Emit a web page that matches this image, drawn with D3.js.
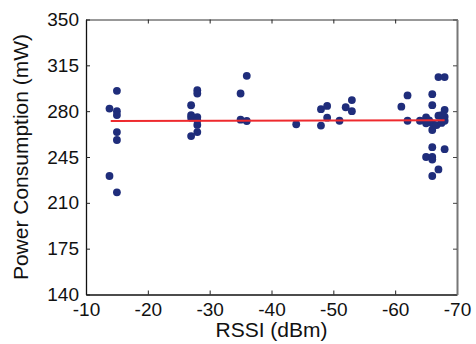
<!DOCTYPE html>
<html><head><meta charset="utf-8">
<script src="https://cdn.jsdelivr.net/npm/d3@7"></script>
<style>html,body{margin:0;padding:0;background:#fff;}text{font-family:"Liberation Sans",Arial,sans-serif;fill:#111;}</style>
</head><body><svg id="c" width="476" height="344"></svg>
<script>
const rssi = [
  -13.8,-15,-15,-15,-15,-15,-13.8,-15,
  -28,-28,-27,-27,-28,-27,-28,-28,-28,-27,
  -36,-35,-35,-36,
  -44,-48,-49,-49,-48,-51,-52,-53,-53,
  -61,-62,-62,-64,-65,-65,-66,-66,-66,-66,-66.7,-67,-67,-68,-68,-67.5,-68,-68,-66,-68,-65,-66,-66,-67,-66,-65.5,-67.5
];
const power = [
  282,295.5,280,277,264,258,230.5,218,
  296,293.5,284.5,277,275.5,275,273,269.5,264,261,
  307,293.5,273.5,272.5,
  270,281.5,284,275,269,272.7,283,288.5,280,
  283.4,292,272.7,272.7,275.3,270.7,293,284.6,270.7,265.6,269.4,276.5,306,306,281,277,275.8,272.7,252.5,251,245,245,243,235.5,230.5,273,271
];
const fitX = [-14, -68];
const fitY = [272.5, 273];
const xTicks = [-10,-20,-30,-40,-50,-60,-70];
const yTicks = [140,175,210,245,280,315,350];

const svg = d3.select("#c");
const L=86, R=457, T=19.5, B=294.5;
const x = d3.scaleLinear().domain([-10,-70]).range([L,R]);
const y = d3.scaleLinear().domain([140,350]).range([B,T]);

const pts = rssi.map((v,i)=>({x:v,y:power[i]}));
svg.append("g").selectAll("circle").data(pts).join("circle")
  .attr("cx",d=>x(d.x)).attr("cy",d=>y(d.y)).attr("r",3.9).attr("fill","#1f2d7b");
svg.append("path").datum(fitX.map((v,i)=>[v,fitY[i]]))
  .attr("d",d3.line().x(d=>x(d[0])).y(d=>y(d[1])))
  .attr("stroke","#ee2a2e").attr("stroke-width",2).attr("fill","none");

const fs = "19px";
const fmt = d => String(d);
const gB = svg.append("g").attr("transform",`translate(0,${B})`)
  .call(d3.axisBottom(x).tickValues(xTicks).tickSizeInner(-4).tickSizeOuter(0).tickPadding(8).tickFormat(fmt));
const gT = svg.append("g").attr("transform",`translate(0,${T})`)
  .call(d3.axisTop(x).tickValues(xTicks).tickSizeInner(-4).tickSizeOuter(0).tickFormat(""));
const gL = svg.append("g").attr("transform",`translate(${L},0)`)
  .call(d3.axisLeft(y).tickValues(yTicks).tickSizeInner(-4).tickSizeOuter(0).tickPadding(7).tickFormat(fmt));
const gR = svg.append("g").attr("transform",`translate(${R},0)`)
  .call(d3.axisRight(y).tickValues(yTicks).tickSizeInner(-4).tickSizeOuter(0).tickFormat(""));
[gB,gT,gL,gR].forEach(g=>{
  g.selectAll("text").attr("font-size",fs).attr("font-family","Liberation Sans, Arial, sans-serif").attr("fill","#111");
  g.selectAll("line").attr("stroke","#222");
});
gB.select(".domain").attr("stroke","#111").attr("stroke-width",1.3);
gL.select(".domain").attr("stroke","#111").attr("stroke-width",1.3);
gT.select(".domain").attr("stroke","#333").attr("stroke-width",1);
gR.select(".domain").attr("stroke","#777").attr("stroke-width",2);
gR.selectAll("line").attr("stroke","#444");
gB.selectAll("text").attr("dy","0.71em");

svg.append("text").attr("x",(L+R)/2).attr("y",337).attr("text-anchor","middle")
  .attr("font-size","21px").text("RSSI (dBm)");
svg.append("text").attr("transform",`translate(28,${(T+B)/2}) rotate(-90)`).attr("text-anchor","middle")
  .attr("font-size","21px").text("Power Consumption (mW)");
</script></body></html>
